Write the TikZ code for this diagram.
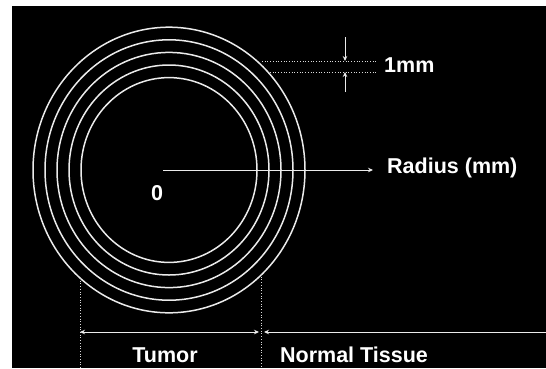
\documentclass[tikz,border=0pt]{standalone}
\usepackage{fontspec}
\setmainfont{Liberation Sans}
\usetikzlibrary{arrows.meta}

\tikzset{
  ring/.style={draw=white!92!black, line width=1.5pt},
  label/.style={text=white, font=\fontsize{21.5}{25}\selectfont\bfseries, inner sep=0pt},
  guide/.style={draw=white!85!black, line width=0.7pt, dotted},
  dimarrow/.style={draw=white!92!black, line width=1pt, -{Stealth[length=5pt,width=4.5pt]}}
}

\begin{document}
\begin{tikzpicture}[x=1pt,y=-1pt]
\useasboundingbox (0,0) rectangle (546,368);
\fill[black] (12,6) rectangle (546,368);
% shells, 1mm apart
\coordinate (O) at (169,170);
\foreach \r in {88,100,112,124,136}
  \draw[ring] (O) ellipse [x radius=\r, y radius=1.05*\r];
% radius axis
\coordinate (rstart) at (163,170);
\node[label, anchor=base west, inner xsep=14pt] (radius) at (373,173) {Radius (mm)};
\draw[dimarrow] (rstart) -- (rstart -| radius.west);
\node[label, anchor=base] (zero) at (157,200) {0};
% 1mm marker
\coordinate (ta) at (262,61);
\coordinate (tb) at (376,61);
\coordinate (ba) at (270,72);
\coordinate (bb) at (376,72);
\draw[guide] (ta) -- (tb);
\draw[guide] (ba) -- (bb);
\coordinate (up) at (345,37);
\coordinate (dn) at (345,92);
\draw[dimarrow] (up) -- (345,61);
\draw[dimarrow] (dn) -- (345,72);
\node[label, anchor=base west] (mm) at (384,72) {1mm};
% tumor / normal tissue
\coordinate (tl) at (80,278);
\coordinate (tr) at (261,274);
\draw[guide] (tl) -- (80,368);
\draw[guide] (tr) -- (261,368);
\coordinate (d1) at (80,332);
\coordinate (d2) at (259,332);
\coordinate (d3) at (264,332);
\coordinate (d4) at (546,332);
\draw[dimarrow, {Stealth[length=5pt,width=4.5pt]}-{Stealth[length=5pt,width=4.5pt]}] (d1) -- (d2);
\draw[dimarrow, {Stealth[length=5pt,width=4.5pt]}-] (d3) -- (d4);
\node[label, anchor=base] (tumor) at (165,362) {Tumor};
\node[label, anchor=base] (normal) at (354,362) {Normal Tissue};
\end{tikzpicture}
\end{document}
